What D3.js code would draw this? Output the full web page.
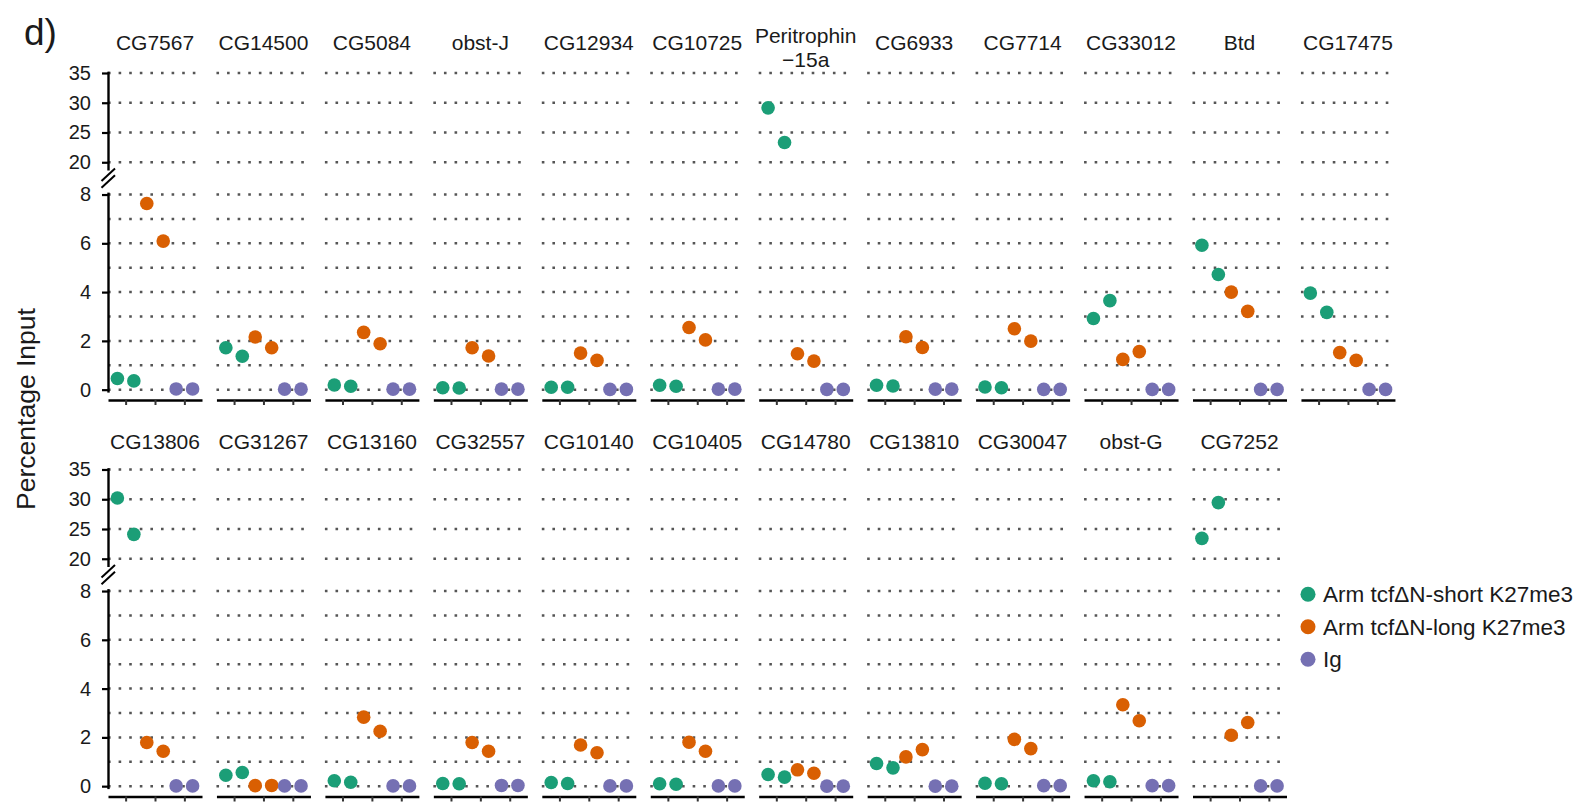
<!DOCTYPE html>
<html>
<head>
<meta charset="utf-8">
<script src="https://cdn.jsdelivr.net/npm/d3@7"></script>
<style>
  body { margin: 0; background: #fff; }
  text { font-family: "Liberation Sans", Arial, Helvetica, sans-serif; fill: #1a1a1a; }
</style>
</head>
<body>
<div id="container"></div>
<script>
//Data
const genes = ["CG7567", "CG14500", "CG5084", "obst-J", "CG12934", "CG10725", "Peritrophin\n\u221215a",
               "CG6933", "CG7714", "CG33012", "Btd", "CG17475",
               "CG13806", "CG31267", "CG13160", "CG32557", "CG10140", "CG10405", "CG14780",
               "CG13810", "CG30047", "obst-G", "CG7252"];
const seriesNames = ["Arm tcf\u0394N-short K27me3", "Arm tcf\u0394N-long K27me3", "Ig"];
const shortK27 = [[0.46, 0.36], [1.72, 1.37], [0.19, 0.14], [0.08, 0.07], [0.10, 0.10], [0.18, 0.14],
                  [29.14, 23.33], [0.18, 0.15], [0.11, 0.08], [2.92, 3.65], [5.92, 4.72], [3.96, 3.17],
                  [30.22, 24.1], [0.45, 0.56], [0.22, 0.16], [0.11, 0.10], [0.15, 0.11], [0.10, 0.08],
                  [0.48, 0.37], [0.93, 0.75], [0.12, 0.10], [0.22, 0.18], [23.43, 29.44]];
const longK27 = [[7.63, 6.09], [2.16, 1.72], [2.35, 1.88], [1.72, 1.38], [1.5, 1.2], [2.55, 2.04],
                 [1.47, 1.17], [2.17, 1.73], [2.5, 1.99], [1.24, 1.56], [4.0, 3.21], [1.52, 1.2],
                 [1.79, 1.43], [0.02, 0.03], [2.83, 2.25], [1.79, 1.43], [1.69, 1.37], [1.8, 1.43],
                 [0.67, 0.53], [1.2, 1.5], [1.92, 1.54], [3.34, 2.68], [2.09, 2.61]];
const igG = [[0.03, 0.03], [0.02, 0.02], [0.02, 0.02], [0.02, 0.02], [0.01, 0.01], [0.02, 0.02],
             [0.01, 0.01], [0.02, 0.02], [0.01, 0.01], [0.01, 0.01], [0.01, 0.01], [0.01, 0.01],
             [0.01, 0.01], [0.01, 0.01], [0.01, 0.01], [0.03, 0.03], [0.01, 0.01], [0.01, 0.01],
             [0.0, 0.0], [0.0, 0.0], [0.02, 0.02], [0.02, 0.02], [0.01, 0.01]];
const upperTicks = [20, 25, 30, 35];
const lowerTicks = [0, 2, 4, 6, 8];
const lowerGrid = [0, 1, 2, 3, 4, 5, 6, 7, 8];

//Layout
const width = 1584;
const height = 802;
const ncol = 12;
const panelW = 94;
const panelStep = 108.45;
const plotLeft = 108;
const rowTop = [0, 396.5];
const titleY = [50, 449];
const dodge = 0.28;
const colors = ["#1b9e77", "#d95f02", "#7570b3"];

const svg = d3.select("#container")
    .append("svg")
    .attr("width", width)
    .attr("height", height);

//Panel label
svg.append("text")
    .attr("x", 24)
    .attr("y", 45)
    .style("font-size", "37px")
    .text("d)");

//Y axis title
svg.append("text")
    .attr("transform", "translate(35, 409) rotate(-90)")
    .attr("text-anchor", "middle")
    .style("font-size", "26.5px")
    .text("Percentage Input");

//Flatten data into points
const series = [shortK27, longK27, igG];
const points = [];
genes.forEach((g, gi) => {
    series.forEach((s, si) => {
        s[gi].forEach((v, ri) => points.push({ gene: gi, group: si, rep: ri, value: v }));
    });
});

genes.forEach((gene, gi) => {
    const row = Math.floor(gi / ncol);
    const col = gi % ncol;
    const left = plotLeft + col * panelStep;
    const top = rowTop[row];

    const x = d3.scaleLinear().domain([0.4, 3.6]).range([left, left + panelW]);
    const yUp = d3.scaleLinear().domain([18.7, 35.3]).range([top + 170, top + 71.2]);
    const yLow = d3.scaleLinear().domain([-0.1, 8.1]).range([top + 392.1, top + 192.1]);

    const panel = svg.append("g").attr("class", "panel");

    //Dotted grid
    const grid = panel.append("g");
    grid.selectAll("line.up")
        .data(upperTicks)
        .join("line")
        .attr("class", "up")
        .attr("x1", left).attr("x2", left + panelW)
        .attr("y1", d => yUp(d)).attr("y2", d => yUp(d));
    grid.selectAll("line.low")
        .data(lowerGrid)
        .join("line")
        .attr("class", "low")
        .attr("x1", left).attr("x2", left + panelW)
        .attr("y1", d => yLow(d)).attr("y2", d => yLow(d));
    grid.selectAll("line")
        .attr("stroke", "#555")
        .attr("stroke-width", 2.5)
        .attr("stroke-dasharray", "2.6 8");

    //Strip title
    const lines = gene.split("\n");
    panel.append("text")
        .attr("text-anchor", "middle")
        .style("font-size", "21px")
        .selectAll("tspan")
        .data(lines)
        .join("tspan")
        .attr("x", left + panelW / 2)
        .attr("y", (d, i) => lines.length > 1 ? top + 42.5 + i * 24 : titleY[row])
        .text(d => d);

    //X axis
    const xAxis = panel.append("g")
        .attr("transform", `translate(0, ${top + 400})`)
        .call(d3.axisBottom(x).tickValues([1, 2, 3]).tickSize(5).tickSizeOuter(0).tickFormat(""));
    xAxis.select(".domain").attr("stroke", "#000").attr("stroke-width", 2.4);
    xAxis.selectAll(".tick line").attr("stroke", "#333").attr("stroke-width", 2);

    //Y axes with break on first column
    if (col === 0) {
        [[yUp, upperTicks], [yLow, lowerTicks]].forEach(([sc, tv]) => {
            const ax = panel.append("g")
                .attr("transform", `translate(${left}, 0)`)
                .call(d3.axisLeft(sc).tickValues(tv).tickSize(6).tickSizeOuter(0).tickPadding(11));
            ax.select(".domain").attr("stroke", "#000").attr("stroke-width", 2.4);
            ax.selectAll(".tick line").attr("stroke", "#000").attr("stroke-width", 2.2);
            ax.selectAll(".tick text")
                .attr("fill", "#1a1a1a")
                .style("font-size", "20px")
                .style("font-family", "'Liberation Sans', Arial, sans-serif");
        });
        //Break marks
        panel.selectAll("line.brk")
            .data([0, 6.8])
            .join("line")
            .attr("class", "brk")
            .attr("x1", left - 6.5).attr("x2", left + 7)
            .attr("y1", d => top + 181 + d).attr("y2", d => top + 168.5 + d)
            .attr("stroke", "#000")
            .attr("stroke-width", 2);
    }

    //Points
    panel.selectAll("circle")
        .data(points.filter(p => p.gene === gi))
        .join("circle")
        .attr("cx", d => x(d.group + 1 + (d.rep === 0 ? -dodge : dodge)))
        .attr("cy", d => d.value > 10 ? yUp(d.value) : yLow(d.value))
        .attr("r", 6.8)
        .attr("fill", d => colors[d.group]);
});

//Legend
const legend = svg.append("g")
    .attr("id", "legend")
    .attr("transform", "translate(1308, 594.3)");
legend.selectAll("circle")
    .data(seriesNames)
    .join("circle")
    .attr("cx", 0)
    .attr("cy", (d, i) => i * 32.5)
    .attr("r", 7.5)
    .attr("fill", (d, i) => colors[i]);
legend.selectAll("text")
    .data(seriesNames)
    .join("text")
    .attr("x", 15)
    .attr("y", (d, i) => i * 32.5)
    .attr("dy", "0.35em")
    .style("font-size", "22.5px")
    .text(d => d);
</script>
</body>
</html>
